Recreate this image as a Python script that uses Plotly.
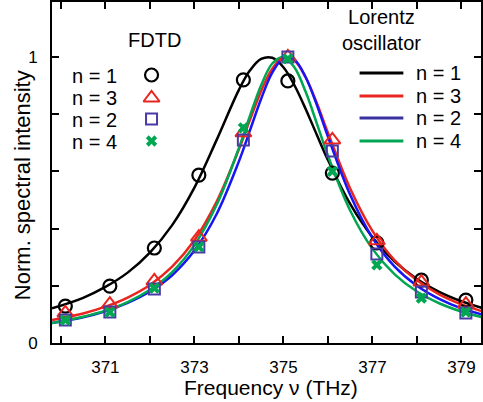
import plotly.graph_objects as go

# ---------------- data ----------------
fdtd_freq = [370.1, 371.1, 372.1, 373.1, 374.1, 375.1, 376.1, 377.1, 378.1, 379.1]
fdtd_n1 = [0.129, 0.199, 0.332, 0.587, 0.920, 0.916, 0.594, 0.350, 0.220, 0.150]
fdtd_n3 = [0.105, 0.136, 0.217, 0.370, 0.735, 1.000, 0.710, 0.357, 0.213, 0.136]
fdtd_n2 = [0.080, 0.108, 0.189, 0.336, 0.710, 1.000, 0.671, 0.311, 0.178, 0.105]
fdtd_n4 = [0.080, 0.108, 0.192, 0.336, 0.752, 0.993, 0.600, 0.273, 0.157, 0.108]

curve_freq = [369.8, 370.5, 371.0, 371.5, 372.0, 372.5, 373.0, 373.5, 374.0, 374.25,
              374.5, 374.75, 375.0, 375.25, 375.5, 375.75, 376.0, 376.5, 377.0, 377.5,
              378.0, 378.5, 379.0, 379.5]
lor_n1 = [0.121, 0.158, 0.196, 0.246, 0.316, 0.412, 0.543, 0.710, 0.885, 0.953,
          0.993, 0.997, 0.964, 0.900, 0.818, 0.728, 0.640, 0.486, 0.370, 0.285,
          0.224, 0.179, 0.146, 0.121]
lor_n3 = [0.080, 0.103, 0.127, 0.159, 0.203, 0.267, 0.359, 0.494, 0.677, 0.781,
          0.881, 0.959, 0.998, 0.987, 0.929, 0.839, 0.735, 0.540, 0.392, 0.289,
          0.219, 0.170, 0.135, 0.109]
lor_n2 = [0.070, 0.090, 0.111, 0.140, 0.180, 0.237, 0.323, 0.451, 0.635, 0.744,
          0.854, 0.945, 0.995, 0.989, 0.929, 0.833, 0.722, 0.518, 0.368, 0.267,
          0.200, 0.154, 0.121, 0.098]
lor_n4 = [0.070, 0.092, 0.113, 0.143, 0.186, 0.248, 0.342, 0.483, 0.682, 0.795,
          0.901, 0.977, 1.000, 0.963, 0.878, 0.768, 0.655, 0.463, 0.329, 0.240,
          0.180, 0.139, 0.110, 0.089]

x_tick_vals = [370, 371, 372, 373, 374, 375, 376, 377, 378, 379]
x_tick_text = ["", "371", "", "373", "", "375", "", "377", "", "379"]
y_tick_vals = [0, 0.2, 0.4, 0.6, 0.8, 1.0]
y_tick_text = ["0", "", "", "", "", "1"]

legend_labels = ["n = 1", "n = 3", "n = 2", "n = 4"]

# ---------------- styles ----------------
BLACK = "#000000"
RED = "#e8261f"
BLUE = "#1515f5"
BLUE_KEY = "#3a32a0"
PURPLE = "#4a3aa5"
GREEN = "#00a651"
FONT = "Liberation Sans, Arial, sans-serif"

W, H = 483, 402
L, R, T, B = 52, 0, 2, 59
PW, PH = W - L - R, H - T - B


def px(xp):
    return (xp - L) / PW


def py(yp):
    return (H - B - yp) / PH


def label(xp, yp, text, size=20, xanchor="center", **kw):
    return dict(x=px(xp), y=py(yp), text=text, showarrow=False,
                xref="paper", yref="paper", xanchor=xanchor, yanchor="middle",
                font=dict(size=size, color="black", family=FONT), **kw)


fig = go.Figure()

# Lorentz oscillator curves
for ys, col in [(lor_n1, BLACK), (lor_n3, RED), (lor_n2, BLUE), (lor_n4, GREEN)]:
    fig.add_trace(go.Scatter(x=curve_freq, y=ys, mode="lines",
                             line=dict(color=col, width=2.5, shape="spline", smoothing=1.0),
                             showlegend=False, hoverinfo="skip"))

# FDTD markers
marker_styles = [
    (fdtd_n1, dict(symbol="circle-open", size=13, color=BLACK, line=dict(width=2.2, color=BLACK))),
    (fdtd_n3, dict(symbol="triangle-up-open", size=14, color=RED, line=dict(width=2, color=RED))),
    (fdtd_n2, dict(symbol="square-open", size=11, color=PURPLE, line=dict(width=2, color=PURPLE))),
    (fdtd_n4, dict(symbol="x", size=10, color=GREEN, line=dict(width=0))),
]
for ys, mk in marker_styles:
    fig.add_trace(go.Scatter(x=fdtd_freq, y=ys, mode="markers", marker=mk,
                             showlegend=False, hoverinfo="skip"))

# Legend keys (FDTD symbols) on an overlay paper-like axis
key_rows_y = [75, 98, 119, 141]
for (ys, mk), yrow in zip(marker_styles, key_rows_y):
    fig.add_trace(go.Scatter(x=[px(152)], y=[py(yrow)], mode="markers", marker=mk,
                             xaxis="x2", yaxis="y2", showlegend=False, hoverinfo="skip"))

annotations = []
# FDTD legend
annotations.append(label(155, 40, "FDTD"))
for lab, yrow in zip(legend_labels, [76, 98, 120, 142]):
    annotations.append(label(70, yrow, lab, xanchor="left"))

# Lorentz legend
annotations.append(label(383, 30, "Lorentz<br>oscillator", align="center"))
shapes = []
lor_rows = [73, 96, 118, 141]
for lab, yrow, col in zip(legend_labels, lor_rows, [BLACK, RED, BLUE_KEY, GREEN]):
    shapes.append(dict(type="line", xref="paper", yref="paper",
                       x0=px(361), x1=px(405), y0=py(yrow), y1=py(yrow),
                       line=dict(color=col, width=3)))
    annotations.append(label(416, yrow, lab, xanchor="left"))

# axis titles
annotations.append(label(272, 388, "Frequency ν (THz)", size=21))
annotations.append(label(22, 185, "Norm. spectral intensity", size=22, textangle=-90))

axis_common = dict(showgrid=False, zeroline=False, showline=True, linecolor="black",
                   linewidth=2, mirror="ticks", ticks="inside", ticklen=7, tickwidth=1.5,
                   tickcolor="black", tickfont=dict(size=17, color="black", family=FONT))

fig.update_layout(
    width=W, height=H,
    margin=dict(l=L, r=R, t=T, b=B),
    paper_bgcolor="white", plot_bgcolor="white",
    showlegend=False,
    xaxis=dict(range=[369.8, 379.44], tickmode="array", tickvals=x_tick_vals,
               ticktext=x_tick_text, ticklabelstandoff=8, **axis_common),
    yaxis=dict(range=[0, 1.192], tickmode="array", tickvals=y_tick_vals,
               ticktext=y_tick_text, ticklabelstandoff=9, **axis_common),
    xaxis2=dict(overlaying="x", range=[0, 1], visible=False, fixedrange=True),
    yaxis2=dict(overlaying="y", range=[0, 1], visible=False, fixedrange=True),
    annotations=annotations,
    shapes=shapes,
)

fig.write_html("out.html")
